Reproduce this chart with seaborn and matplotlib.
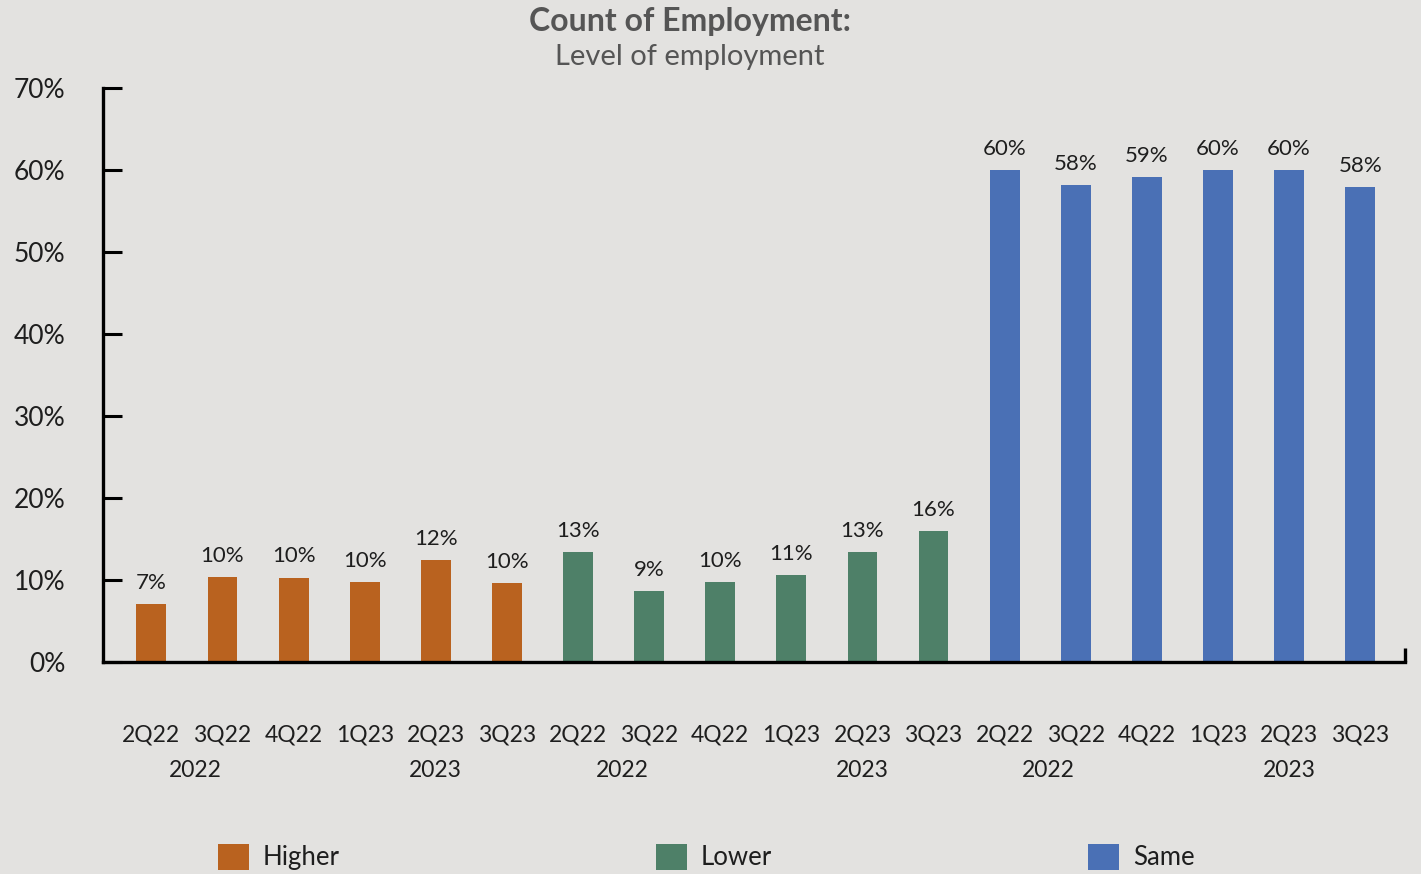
import matplotlib
matplotlib.use("Agg")
import matplotlib.pyplot as plt
import seaborn as sns
import pandas as pd
import numpy as np

# Share of respondents by level of employment, per quarter
quarters = ["2Q22", "3Q22", "4Q22", "1Q23", "2Q23", "3Q23"]
years = ["2022", "2022", "2022", "2023", "2023", "2023"]
series = ["Higher", "Lower", "Same"]
higher = [0.071, 0.104, 0.103, 0.098, 0.124, 0.096]
lower = [0.134, 0.086, 0.097, 0.106, 0.134, 0.160]
same = [0.600, 0.582, 0.591, 0.600, 0.600, 0.579]
colors = {"Higher": "#b9621f", "Lower": "#4e8068", "Same": "#4a70b5"}

bg = "#e3e2e0"
text_col = "#1e1e1e"

rows = []
for name, vals in zip(series, [higher, lower, same]):
    for q, y, v in zip(quarters, years, vals):
        rows.append({"series": name, "quarter": q, "year": y,
                     "key": f"{name} {q}", "value": v})
df = pd.DataFrame(rows)

sns.set_theme(style="white")
plt.rcParams["font.family"] = ["Lato", "DejaVu Sans"]

fig = plt.figure(figsize=(14.21, 8.74), dpi=100, facecolor=bg)
ax = fig.add_axes([103 / 1421, 1 - 662 / 874, (1405 - 103) / 1421, (662 - 88) / 874])
ax.set_facecolor(bg)

sns.barplot(data=df, x="key", y="value", hue="series", palette=colors,
            dodge=False, width=0.42, saturation=1, linewidth=0, edgecolor="none",
            ax=ax, legend=True)

ax.set_ylim(0, 0.70)
ax.set_xlim(-0.68, len(df) - 1 + 0.63)
ax.set_yticks(np.arange(0, 0.71, 0.1))
ax.set_yticklabels([f"{int(round(t * 100))}%" for t in np.arange(0, 0.71, 0.1)],
                   fontsize=19, color=text_col)
ax.set_xticks(range(len(df)))
ax.set_xticklabels(df["quarter"], fontsize=16.5, color=text_col)
ax.tick_params(axis="y", left=True, direction="in", length=14, width=2.2, pad=27,
               color="black")
ax.tick_params(axis="x", bottom=False, length=0, pad=45)
ax.set_xlabel("")
ax.set_ylabel("")

for s in ["top", "right"]:
    ax.spines[s].set_visible(False)
for s in ["left", "bottom"]:
    ax.spines[s].set_linewidth(2.4)
    ax.spines[s].set_color("black")

# small closing tick at the right end of the baseline
ax.plot([1, 1], [0, 0.025], transform=ax.transAxes, color="black", lw=2.4,
        clip_on=False, solid_capstyle="butt")

# value labels above bars
for i, v in enumerate(df["value"]):
    ax.annotate(f"{v * 100:.0f}%", (i, v), xytext=(0, 8), textcoords="offset points",
                ha="center", va="bottom", fontsize=16, color=text_col)

# year labels under each series block
for g in range(len(series)):
    base = g * len(quarters)
    ax.text(base + 0.62, -0.132, "2022", ha="center", va="center", fontsize=16.5,
            color=text_col, transform=ax.transData)
    ax.text(base + 4.0, -0.132, "2023", ha="center", va="center", fontsize=16.5,
            color=text_col, transform=ax.transData)

fig.text(0.4855, 1 - 21 / 874, "Count of Employment:", ha="center", va="center",
         fontsize=23, fontweight="bold", color="#555555")
fig.text(0.4855, 1 - 57 / 874, "Level of employment", ha="center", va="center",
         fontsize=21, color="#555555")

handles, labels = ax.get_legend_handles_labels()
ax.get_legend().remove()
fig.legend(handles, labels, loc="center left", bbox_to_anchor=(205 / 1421, 1 - 857 / 874),
           ncol=3, frameon=False, fontsize=18.5, handlelength=1.2, handleheight=1.2,
           handletextpad=0.55, columnspacing=12.3, borderpad=0, labelcolor=text_col)

fig.savefig("out.png", dpi=100, facecolor=bg)
